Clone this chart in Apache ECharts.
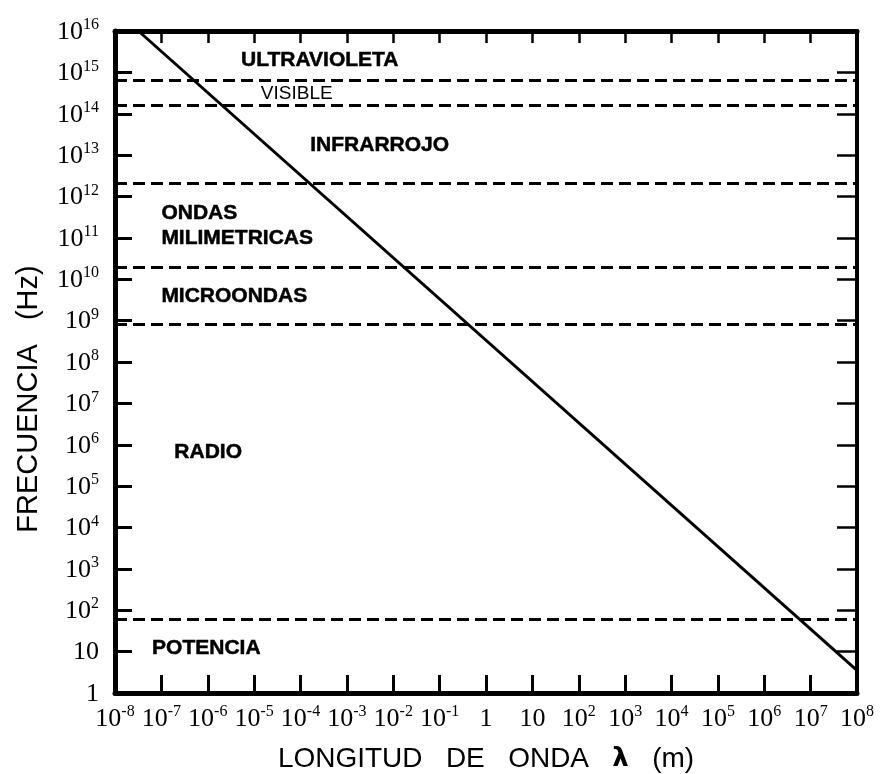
<!DOCTYPE html>
<html><head><meta charset="utf-8">
<script src="https://cdn.jsdelivr.net/npm/echarts@6/dist/echarts.min.js"></script>
<style>html,body{margin:0;padding:0;background:#fff}#c{width:881px;height:774px}</style>
</head><body><div id="c"></div>
<script>
// ---- data ----
const wavelengthLine = [3.2e-8, 1e8];          // m
const frequencyLine  = [1e16, 3.5];            // Hz
const boundaryFreqs  = [6.5e14, 1.6e14, 2.1e12, 2e10, 8e8, 60];
const regionNames  = ['ULTRAVIOLETA','VISIBLE','INFRARROJO','ONDAS','MILIMETRICAS','MICROONDAS','RADIO','POTENCIA'];
const regionLambda = [2.6e-4, 8.3e-5, 5.1e-3, 1e-7, 1e-7, 1e-7, 1.9e-7, 6.3e-8];
const regionFreq   = [2e15, 3.1e14, 1.7e13, 3.9e11, 1e11, 3.9e9, 6.5e5, 12];
const xRange = [1e-8, 1e8];
const yRange = [1, 1e16];
const xTitle = 'LONGITUD   DE   ONDA   {l|λ}   (m)';
const yTitle = 'FRECUENCIA   (Hz)';

// ---- build ----
const centered = new Set(['ULTRAVIOLETA','VISIBLE','INFRARROJO']);
function powLabel(v){
  const e = Math.round(Math.log10(v));
  if (e === 0) return '{b|1}';
  if (e === 1) return '{b|10}';
  return '{b|10}{s|' + e + '}';
}
const tickRich = {
  b: {fontFamily:'Liberation Serif', fontSize:26, color:'#000', lineHeight:28, verticalAlign:'bottom'},
  s: {fontFamily:'Liberation Serif', fontSize:16, color:'#000', lineHeight:16, verticalAlign:'top'}
};
const chart = echarts.init(document.getElementById('c'), null, {renderer:'canvas'});
const lineW = 5;
const labelData = regionNames.map((n,i)=>({
  name:n, value:[regionLambda[i], regionFreq[i]],
  label:{
    align: centered.has(n) ? 'center' : 'left',
    fontWeight: n==='VISIBLE' ? 'normal' : 'bold',
    fontSize: n==='VISIBLE' ? 19 : 21,
    textBorderWidth: n==='VISIBLE' ? 0 : 0.5
  }
}));
chart.setOption({
  animation:false,
  backgroundColor:'#fff',
  grid:{left:115, right:24, top:31, bottom:81, containLabel:false, outerBoundsMode:'none'},
  xAxis:[{
    type:'log', logBase:10, min:xRange[0], max:xRange[1], interval:1, splitNumber:16,
    position:'bottom',
    name:xTitle, nameLocation:'middle', nameGap:52,
    nameTextStyle:{fontFamily:'Liberation Sans', fontSize:28, color:'#000',
      rich:{l:{fontFamily:'DejaVu Sans', fontWeight:'bold', fontSize:26, color:'#000'}}},
    axisLine:{show:true, lineStyle:{color:'#000', width:lineW}},
    axisTick:{show:true, inside:true, length:18, lineStyle:{color:'#000', width:3}},
    minorTick:{show:false},
    splitLine:{show:false},
    axisLabel:{show:true, margin:11, showMinLabel:true, showMaxLabel:true, formatter:powLabel, rich:tickRich}
  },{
    type:'log', logBase:10, min:xRange[0], max:xRange[1], interval:1, splitNumber:16,
    position:'top',
    axisLine:{show:true, lineStyle:{color:'#000', width:lineW}},
    axisTick:{show:true, inside:true, length:12, lineStyle:{color:'#000', width:2.5}},
    splitLine:{show:false}, axisLabel:{show:false}
  }],
  yAxis:[{
    type:'log', logBase:10, min:yRange[0], max:yRange[1], interval:1, splitNumber:16,
    position:'left',
    name:yTitle, nameLocation:'middle', nameGap:72, nameRotate:90,
    nameTextStyle:{fontFamily:'Liberation Sans', fontSize:29, color:'#000', padding:[0,74,0,0]},
    axisLine:{show:true, lineStyle:{color:'#000', width:lineW}},
    axisTick:{show:true, inside:true, length:17, lineStyle:{color:'#000', width:3}},
    splitLine:{show:false},
    axisLabel:{show:true, margin:16, showMinLabel:true, showMaxLabel:true, formatter:powLabel, rich:tickRich}
  },{
    type:'log', logBase:10, min:yRange[0], max:yRange[1], interval:1, splitNumber:16,
    position:'right',
    axisLine:{show:true, lineStyle:{color:'#000', width:4}},
    axisTick:{show:true, inside:true, length:20, lineStyle:{color:'#000', width:2.5}},
    splitLine:{show:false}, axisLabel:{show:false}
  }],
  series:[{
    type:'line', xAxisIndex:0, yAxisIndex:0, symbol:'none', silent:true,
    data: wavelengthLine.map((x,i)=>[x, frequencyLine[i]]),
    lineStyle:{color:'#000', width:3},
    markLine:{
      silent:true, symbol:['none','none'], label:{show:false},
      lineStyle:{color:'#000', width:3, type:[12,6]},
      data: boundaryFreqs.map(v=>({yAxis:v}))
    }
  },{
    type:'scatter', xAxisIndex:0, yAxisIndex:0, symbolSize:0, silent:true,
    itemStyle:{opacity:1},
    data: labelData,
    label:{show:true, position:'inside', formatter:'{b}', color:'#000', opacity:1, textBorderColor:'#000',
      fontFamily:'Liberation Sans', verticalAlign:'middle'}
  }]
});
</script></body></html>
